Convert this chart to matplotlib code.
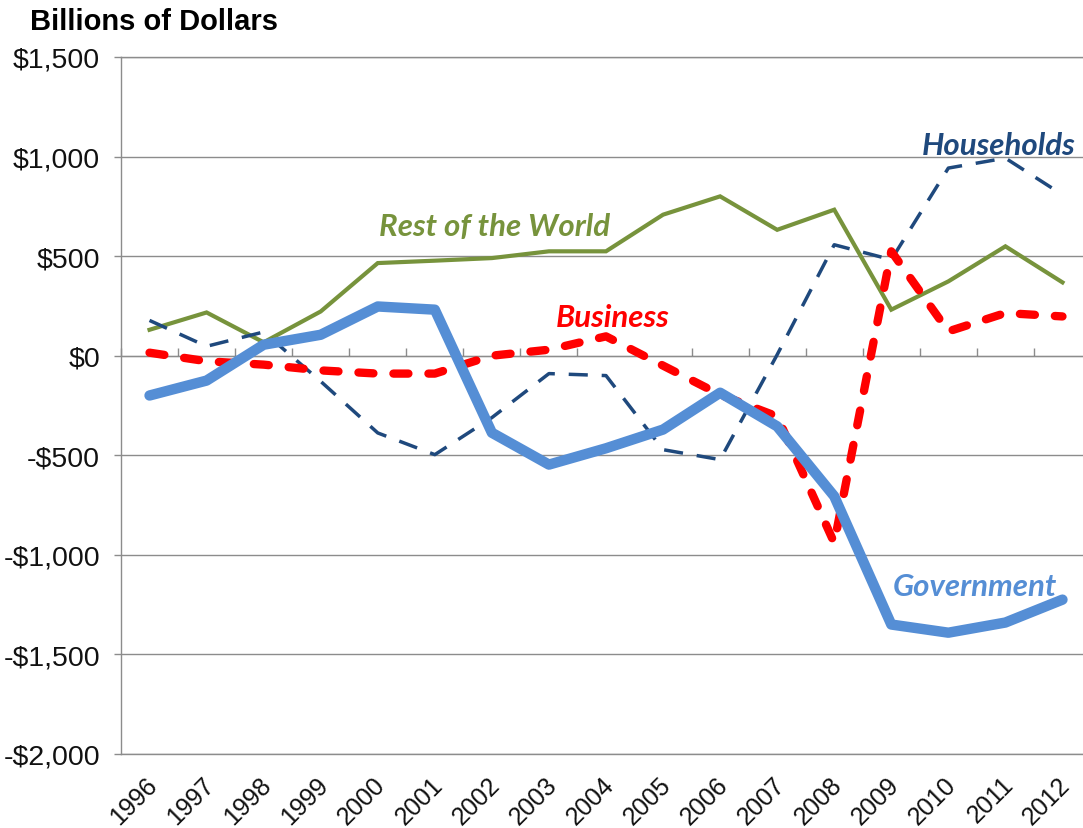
import matplotlib.pyplot as plt
import matplotlib.transforms as mtransforms
import numpy as np

# Data (billions of dollars)
years = ['1996', '1997', '1998', '1999', '2000', '2001', '2002', '2003', '2004',
         '2005', '2006', '2007', '2008', '2009', '2010', '2011', '2012']
government = [-200, -125, 55, 105, 247, 231, -387, -547, -465,
              -371, -186, -355, -706, -1350, -1391, -1340, -1225]
rest_of_world = [130, 217, 67, 222, 465, 477, 490, 524, 524,
                 708, 800, 632, 733, 231, 373, 549, 368]
business = [15, -28, -45, -74, -90, -90, 0, 30, 97,
            -50, -196, -305, -940, 524, 122, 214, 197]
households = [177, 47, 119, -129, -388, -497, -311, -90, -100,
              -472, -522, 5, 557, 482, 942, 992, 808]
y_ticks = [1500, 1000, 500, 0, -500, -1000, -1500, -2000]

gray = '#8c8c8c'
x = np.arange(len(years))

fig = plt.figure(figsize=(10.83, 8.29), dpi=100)
ax = fig.add_axes([121 / 1083, 0.0893, 970 / 1083, 0.8408])

# Lines
ax.plot(x, rest_of_world, color='#77933C', lw=3, solid_joinstyle='miter', zorder=3)
ax.plot(x, households, color='#1F497D', lw=2.5, linestyle=(0, (5.5, 4)), zorder=3)
ax.plot(x, business, color='#FF0000', lw=6, linestyle=(0, (1.8, 2.4)),
        dash_capstyle='round', zorder=4)
ax.plot(x, government, color='#558ED5', lw=7.5, solid_capstyle='round', zorder=5)

# Axis limits / grid
ax.set_xlim(-0.5, 16.5)
ax.set_ylim(-2000, 1500)
ax.set_yticks(y_ticks)
ax.set_yticklabels([('-$' if v < 0 else '$') + f'{abs(v):,}' for v in y_ticks],
                   fontsize=20.5, family='Liberation Sans')
ax.yaxis.grid(True, color=gray, lw=1)
ax.set_axisbelow(True)
ax.tick_params(axis='y', length=5, width=1, color=gray, pad=10, labelcolor='#111111')

# x tick labels at bottom, rotated
ax.set_xticks(x)
ax.set_xticklabels(years, fontsize=18, family='Liberation Sans', rotation=45,
                   ha='right', va='center', rotation_mode='anchor', color='#111111')
ax.tick_params(axis='x', length=0, pad=19)
offset = mtransforms.ScaledTranslation(4 / 100, 0, fig.dpi_scale_trans)
for lbl in ax.get_xticklabels():
    lbl.set_transform(lbl.get_transform() + offset)

for s in ['top', 'bottom', 'left']:
    ax.spines[s].set_color(gray)
    ax.spines[s].set_linewidth(1)
ax.spines['right'].set_visible(False)

# Horizontal axis crossing at zero, with tick marks between categories
zero_frac = (0 - (-2000)) / 3500
sec = ax.secondary_xaxis(zero_frac)
sec.set_xticks(np.arange(-0.5, 17, 1.0))
sec.set_xticklabels([])
sec.tick_params(length=5.5, width=1, color=gray, direction='out')
sec.spines['bottom'].set_color(gray)
sec.spines['bottom'].set_linewidth(1.3)

# Series labels
lab = dict(fontsize=22.5, fontweight='bold', style='italic', family='Lato',
           ha='center', va='center')
ax.text(14.88, 1059, 'Households', color='#1F497D', **lab)
ax.text(6.05, 653, 'Rest of the World', color='#77933C', **lab)
ax.text(8.12, 196, 'Business', color='#FF0000', **lab)
ax.text(14.47, -1155, 'Government', color='#558ED5', **lab)

# Title
fig.text(30 / 1083, 1 - 22 / 829, 'Billions of Dollars', fontsize=21,
         fontweight='bold', family='Liberation Sans', ha='left', va='center')

fig.savefig('out.png', dpi=100)
